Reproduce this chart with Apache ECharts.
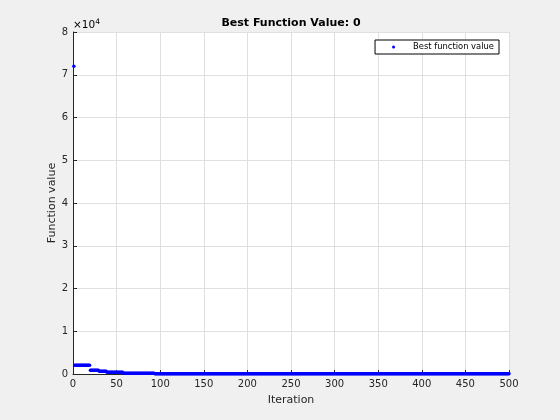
<!DOCTYPE html>
<html>
<head>
<meta charset="utf-8">
<script src="https://cdn.jsdelivr.net/npm/echarts@6/dist/echarts.min.js"></script>
<style>html,body{margin:0;padding:0;background:#f0f0f0;}#c{width:560px;height:420px;}</style>
</head>
<body>
<div id="c"></div>
<script>
// Best-so-far history: iterations where the best value changed, and the new value
const improveIters = [1, 2, 20, 30, 39, 58, 94];
const improveValues = [72000, 2030, 890, 650, 400, 190, 40];
const lastIteration = 500;
const xTicks = [0, 50, 100, 150, 200, 250, 300, 350, 400, 450, 500];
const yTickLabels = ['0', '1', '2', '3', '4', '5', '6', '7', '8'];
const titleText = 'Best Function Value: 0';
const seriesName = 'Best function value';

// best value is held between improvements
const points = [];
let k = 0;
for (let it = improveIters[0]; it <= lastIteration; it++) {
  while (k + 1 < improveIters.length && improveIters[k + 1] <= it) k++;
  points.push([it, improveValues[k]]);
}

const axisColor = '#262626';
const font = 'DejaVu Sans';
const chart = echarts.init(document.getElementById('c'), null, {renderer: 'canvas'});
chart.setOption({
  animation: false,
  backgroundColor: '#f0f0f0',
  textStyle: {fontFamily: font},
  grid: {left: 73, right: 51, top: 32, bottom: 46, show: true, backgroundColor: '#ffffff', borderWidth: 0},
  legend: {
    right: 61, top: 40, orient: 'vertical',
    backgroundColor: '#ffffff', borderColor: '#000000', borderWidth: 1, borderRadius: 0,
    padding: [3, 5, 3, 17], itemWidth: 3, itemHeight: 4, itemGap: 0,
    textStyle: {fontSize: 8.4, color: '#000000', fontFamily: font, padding: [0, 0, 0, 13]},
    data: [{name: seriesName, icon: 'circle'}]
  },
  graphic: [
    {type: 'text', position: [291, 18], style: {text: titleText, font: 'bold 11px "DejaVu Sans"', fill: '#000000', textAlign: 'center'}},
    {type: 'text', position: [73, 18], style: {
      rich: {b: {fontSize: 10.5, fontFamily: font, color: '#262626'}, s: {fontSize: 7.5, fontFamily: font, color: '#262626', verticalAlign: 'top', padding: [0, 0, 6, 0]}},
      text: '{b|×10}{s|4}'
    }}
  ],
  xAxis: {
    type: 'value', min: 0, max: 500, interval: 50,
    name: 'Iteration', nameLocation: 'middle', nameGap: 20.5, nameMoveOverlap: false,
    nameTextStyle: {fontSize: 11, color: axisColor, fontFamily: font},
    axisLine: {show: true, onZero: false, lineStyle: {color: axisColor, width: 1}},
    axisTick: {show: true, inside: true, length: 4, lineStyle: {color: axisColor}},
    axisLabel: {fontSize: 10, color: axisColor, margin: 5.5, fontFamily: font,
      formatter: v => xTicks.indexOf(v) >= 0 ? String(v) : ''},
    splitLine: {show: true, lineStyle: {color: '#dfdfdf', width: 1}}
  },
  yAxis: {
    type: 'value', min: 0, max: 80000, interval: 10000,
    name: 'Function value', nameLocation: 'middle', nameGap: 15, nameMoveOverlap: false,
    nameTextStyle: {fontSize: 11, color: axisColor, fontFamily: font},
    axisLine: {show: true, onZero: false, lineStyle: {color: axisColor, width: 1}},
    axisTick: {show: true, inside: true, length: 4, lineStyle: {color: axisColor}},
    axisLabel: {fontSize: 10, color: axisColor, margin: 5, fontFamily: font,
      formatter: v => yTickLabels[Math.round(v / 10000)]},
    splitLine: {show: true, lineStyle: {color: '#dfdfdf', width: 1}}
  },
  series: [{
    name: seriesName, type: 'scatter', data: points,
    symbol: 'circle', symbolSize: 3.5, itemStyle: {color: '#0000ff', opacity: 1},
    large: false, clip: false
  }]
});
</script>
</body>
</html>
